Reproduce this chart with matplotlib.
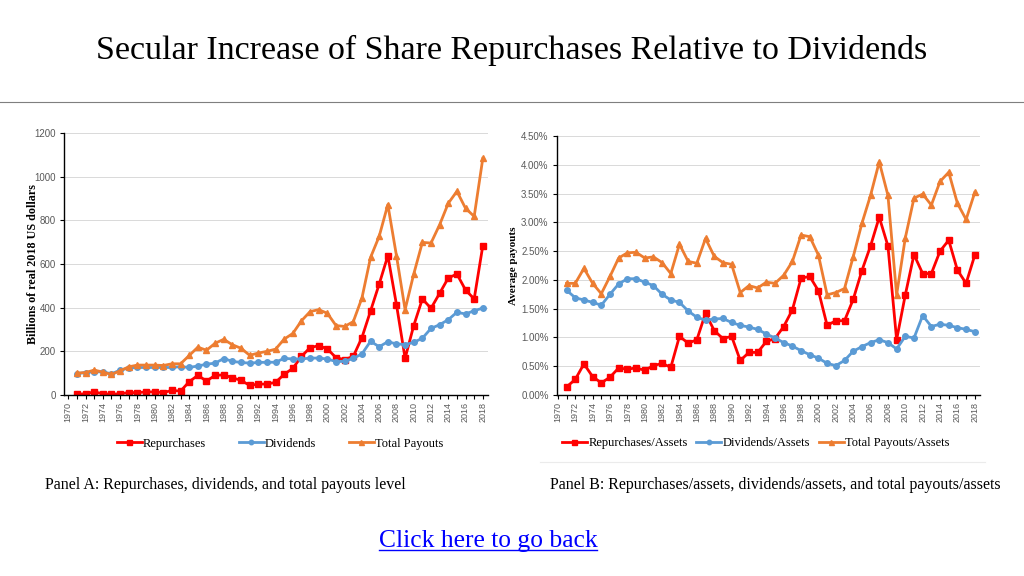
"""
Two-panel payout chart: repurchases vs dividends, levels and scaled by assets.
"""
import matplotlib
matplotlib.use("Agg")
import matplotlib.pyplot as plt
import numpy as np
from matplotlib.lines import Line2D

years = np.arange(1971, 2019)

# Panel A, billions of real 2018 US dollars
repurchases = [3, 6, 14, 6, 3, 6, 11, 11, 14, 14, 11, 21, 18, 61, 90, 64, 90, 92, 79, 67,
               44, 50, 50, 58, 95, 122, 177, 217, 226, 211, 171, 162, 177, 263, 385, 508,
               638, 414, 168, 318, 440, 397, 466, 536, 554, 481, 440, 684]
dividends = [98, 103, 106, 106, 97, 114, 123, 126, 126, 126, 126, 126, 130, 126, 133, 141,
             146, 167, 154, 149, 146, 149, 150, 150, 168, 165, 165, 169, 169, 165, 153, 154,
             168, 188, 246, 221, 244, 234, 231, 241, 260, 305, 322, 345, 379, 371, 386, 398]
total_payouts = [100, 103, 114, 105, 94, 111, 129, 137, 137, 137, 135, 143, 143, 181, 219,
                 205, 237, 255, 230, 214, 182, 192, 200, 210, 256, 282, 340, 382, 391, 374,
                 318, 314, 336, 444, 630, 727, 872, 638, 391, 554, 699, 696, 780, 878, 933,
                 855, 818, 1084]

# Panel B, percent of assets
rep_assets = [0.14, 0.27, 0.54, 0.32, 0.21, 0.31, 0.47, 0.45, 0.47, 0.43, 0.51, 0.55, 0.48,
              1.02, 0.90, 0.96, 1.42, 1.12, 0.98, 1.02, 0.60, 0.74, 0.74, 0.93, 0.98, 1.19,
              1.48, 2.03, 2.06, 1.81, 1.21, 1.29, 1.29, 1.66, 2.16, 2.59, 3.09, 2.59, 0.96,
              1.74, 2.44, 2.11, 2.11, 2.50, 2.69, 2.17, 1.94, 2.43]
div_assets = [1.82, 1.69, 1.65, 1.61, 1.56, 1.75, 1.93, 2.02, 2.02, 1.96, 1.90, 1.75, 1.65,
              1.61, 1.46, 1.35, 1.30, 1.32, 1.33, 1.26, 1.21, 1.18, 1.14, 1.06, 0.99, 0.91,
              0.85, 0.77, 0.70, 0.64, 0.55, 0.51, 0.60, 0.76, 0.84, 0.91, 0.96, 0.91, 0.80,
              1.02, 0.99, 1.38, 1.19, 1.23, 1.21, 1.17, 1.14, 1.10]
tot_assets = [1.94, 1.94, 2.20, 1.94, 1.76, 2.06, 2.38, 2.47, 2.48, 2.38, 2.40, 2.30, 2.11,
              2.62, 2.32, 2.29, 2.72, 2.41, 2.30, 2.27, 1.78, 1.90, 1.86, 1.96, 1.94, 2.08,
              2.32, 2.78, 2.75, 2.43, 1.74, 1.78, 1.85, 2.40, 2.98, 3.47, 4.05, 3.47, 1.74,
              2.73, 3.42, 3.49, 3.30, 3.71, 3.87, 3.33, 3.05, 3.52]

tick_years = np.arange(1970, 2019, 2)

RED = "#FF0000"
BLUE = "#5B9BD5"
ORANGE = "#ED7D31"
GRID = "#D9D9D9"
TICK = "#595959"
SERIF = ["Liberation Serif", "DejaVu Serif"]
SANS = ["Liberation Sans", "DejaVu Sans"]

fig = plt.figure(figsize=(10.24, 5.76), dpi=100)
fig.patch.set_facecolor("white")

fig.text(0.5, 1 - 50 / 576, "Secular Increase of Share Repurchases Relative to Dividends",
         ha="center", va="center", fontsize=24.5, family=SERIF, color="black")
fig.add_artist(Line2D([0, 1], [1 - 102 / 576, 1 - 102 / 576], color="#7F7F7F", lw=0.8))


def style_axes(ax, xlim):
    ax.set_xlim(*xlim)
    ax.set_xticks(tick_years)
    ax.set_xticks(np.arange(1970, 2019), minor=True)
    ax.set_xticklabels([str(y) for y in tick_years], rotation=90, fontsize=6.5,
                       color=TICK, family=SANS)
    ax.tick_params(axis="x", which="both", direction="out", length=3, width=0.8,
                   color="black", pad=2)
    ax.tick_params(axis="y", direction="out", length=3, width=0.8, color="black",
                   labelsize=7, labelcolor=TICK, pad=3)
    for lab in ax.get_yticklabels():
        lab.set_family(SANS)
    ax.grid(axis="y", color=GRID, lw=0.7)
    ax.set_axisbelow(True)
    for s in ("top", "right"):
        ax.spines[s].set_visible(False)
    for s in ("left", "bottom"):
        ax.spines[s].set_color("black")
        ax.spines[s].set_linewidth(1.0)


kw = dict(lw=2.0, ms=4.5)
leg_font = {"family": SERIF, "size": 9}

# Panel A
axA = fig.add_axes([64 / 1024, 1 - 395 / 576, (488 - 64) / 1024, (395 - 133) / 576])
axA.plot(years, repurchases, color=RED, marker="s", label="Repurchases", **kw)
axA.plot(years, dividends, color=BLUE, marker="o", label="Dividends", lw=2.0, ms=4)
axA.plot(years, total_payouts, color=ORANGE, marker="^", label="Total Payouts", **kw)
axA.set_ylim(0, 1200)
axA.set_yticks(np.arange(0, 1201, 200))
style_axes(axA, (1969.5, 2018.6))
axA.set_ylabel("Billions of real 2018 US dollars", fontsize=8.7, fontweight="bold",
               family=SERIF, labelpad=-3.2)
axA.legend(loc="upper center", bbox_to_anchor=(0.51, -0.12), ncol=3, frameon=False,
           prop=leg_font, handlelength=2.0, columnspacing=2.6,
           handletextpad=0.1, markerscale=0.8)

# Panel B
axB = fig.add_axes([557 / 1024, 1 - 395 / 576, (980 - 557) / 1024, (395 - 136) / 576])
axB.plot(years, rep_assets, color=RED, marker="s", label="Repurchases/Assets", **kw)
axB.plot(years, div_assets, color=BLUE, marker="o", label="Dividends/Assets", lw=2.0, ms=4)
axB.plot(years, tot_assets, color=ORANGE, marker="^", label="Total Payouts/Assets", **kw)
axB.set_ylim(0, 4.5)
axB.set_yticks(np.arange(0, 4.51, 0.5))
axB.set_yticklabels([f"{v:.2f}%" for v in np.arange(0, 4.51, 0.5)])
style_axes(axB, (1969.9, 2018.6))
axB.set_ylabel("Average payouts", fontsize=8, fontweight="bold", family=SERIF, labelpad=2)
axB.legend(loc="upper center", bbox_to_anchor=(0.47, -0.12), ncol=3, frameon=False,
           prop=leg_font, handlelength=2.0, columnspacing=0.7,
           handletextpad=0.1, markerscale=0.8)

# faint border under panel B image
fig.add_artist(Line2D([540 / 1024, 985 / 1024], [1 - 462 / 576, 1 - 462 / 576],
                      color="#EBEBEB", lw=0.8))

fig.text(45 / 1024, 1 - 485 / 576, "Panel A: Repurchases, dividends, and total payouts level",
         ha="left", va="center", fontsize=11.5, family=SERIF)
fig.text(550 / 1024, 1 - 485 / 576,
         "Panel B: Repurchases/assets, dividends/assets, and total payouts/assets",
         ha="left", va="center", fontsize=11.5, family=SERIF)

link = fig.text(0.4765, 1 - 541 / 576, "Click here to go back", ha="center", va="center",
                fontsize=18.4, family=SERIF, color="#0000FF")
fig.canvas.draw()
bb = link.get_window_extent().transformed(fig.transFigure.inverted())
fig.add_artist(Line2D([bb.x0, bb.x1], [bb.y0 + 0.004, bb.y0 + 0.004], color="#0000FF", lw=1.0))

fig.savefig("out.png", dpi=100, facecolor="white")
